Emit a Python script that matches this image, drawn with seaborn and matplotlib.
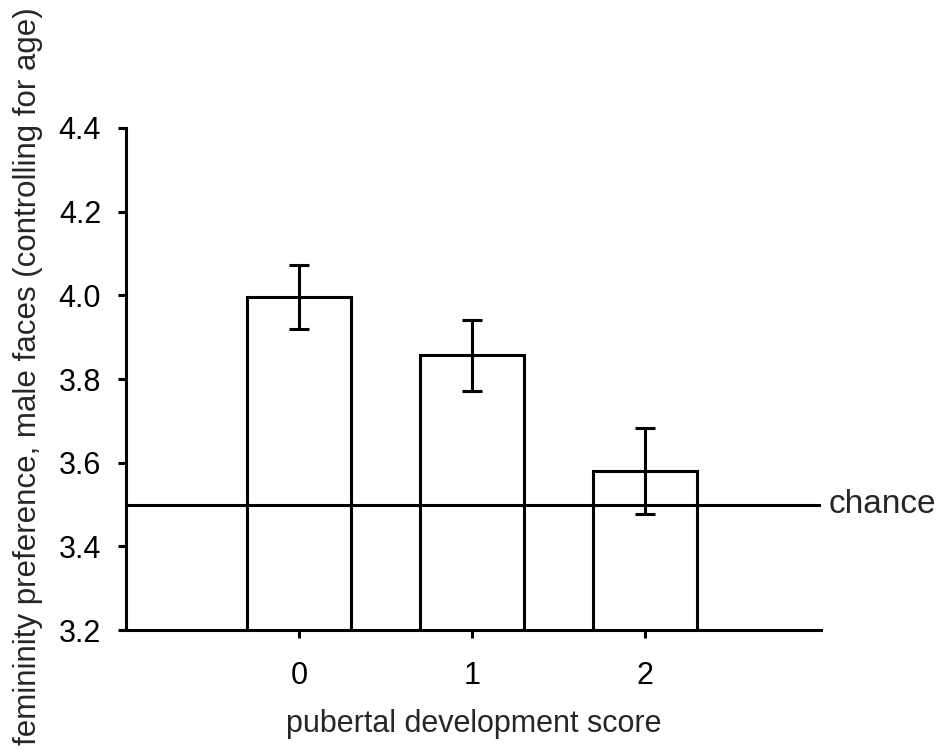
import numpy as np
import pandas as pd
import seaborn as sns
import matplotlib
matplotlib.use("Agg")
import matplotlib.pyplot as plt

# values
scores = ["0", "1", "2"]
means = [3.995, 3.857, 3.580]
err_low = [3.920, 3.772, 3.478]
err_high = [4.073, 3.941, 3.683]
chance = 3.5

df = pd.DataFrame({"score": scores, "pref": means})

sns.set_style("ticks")
plt.rcParams["font.family"] = ["Liberation Sans", "DejaVu Sans"]

fig = plt.figure(figsize=(9.48, 7.52), dpi=100)
ax = fig.add_axes([0.133, 0.162, 0.733, 0.668])

sns.barplot(data=df, x="score", y="pref", color="white", edgecolor="black",
            linewidth=2.2, width=0.6, errorbar=None, ax=ax)

yerr = [np.array(means) - np.array(err_low), np.array(err_high) - np.array(means)]
ax.errorbar(np.arange(len(scores)), means, yerr=yerr, fmt="none",
            ecolor="black", elinewidth=2.2, capsize=7, capthick=2.2, zorder=5)

ax.axhline(chance, color="black", lw=2.2, zorder=4)
ax.text(1.011, chance, "chance", transform=ax.get_yaxis_transform(),
        va="center", ha="left", fontsize=24)

ax.set_ylim(3.2, 4.4)
ax.set_xlim(-1.0, 3.02)
ax.set_yticks([3.2, 3.4, 3.6, 3.8, 4.0, 4.2, 4.4])
ax.set_yticklabels([f"{v:.1f}" for v in ax.get_yticks()])

for s in ["top", "right"]:
    ax.spines[s].set_visible(False)
for s in ["left", "bottom"]:
    ax.spines[s].set_linewidth(2.2)
    ax.spines[s].set_color("black")
ax.tick_params(axis="both", direction="out", length=6, width=2.2,
               labelsize=22, colors="black")
ax.tick_params(axis="y", pad=12)
ax.tick_params(axis="x", pad=16)

ax.set_xlabel("pubertal development score", fontsize=22, labelpad=13)
ax.set_ylabel("femininity preference, male faces (controlling for age)",
              fontsize=22.5)
ax.yaxis.set_label_coords(-0.12, 0.505)

fig.savefig("out.png", dpi=100, facecolor="white")
